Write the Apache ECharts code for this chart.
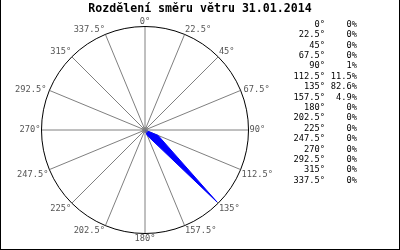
<!DOCTYPE html>
<html>
<head>
<meta charset="utf-8">
<script src="https://cdn.jsdelivr.net/npm/echarts@6/dist/echarts.min.js"></script>
<style>
html,body{margin:0;padding:0;background:#fff;}
#c{width:400px;height:250px;}
</style>
</head>
<body>
<div id="c"></div>
<script>
var titleText = 'Rozdělení směru větru 31.01.2014';
var directions = [0, 22.5, 45, 67.5, 90, 112.5, 135, 157.5, 180, 202.5, 225, 247.5, 270, 292.5, 315, 337.5];
var percents = [0, 0, 0, 0, 1, 11.5, 82.6, 4.9, 0, 0, 0, 0, 0, 0, 0, 0];

var chart = echarts.init(document.getElementById('c'), null, {renderer: 'canvas'});

var lineData = directions.map(function (d, i) { return [percents[i], d]; });
lineData.push([percents[0], 360]);

var mono = 'DejaVu Sans Mono';
var graphics = [
  {type: 'text', left: 'center', top: 3, style: {text: titleText, font: 'bold 11.6px "' + mono + '"', fill: '#000'}},
  {type: 'line', shape: {x1: 0.5, y1: 0, x2: 0.5, y2: 250}, style: {stroke: '#000', lineWidth: 1}},
  {type: 'line', shape: {x1: 399.5, y1: 0, x2: 399.5, y2: 250}, style: {stroke: '#000', lineWidth: 1}},
  {type: 'line', shape: {x1: 0, y1: 249.5, x2: 400, y2: 249.5}, style: {stroke: '#000', lineWidth: 1}}
];
directions.forEach(function (d, i) {
  var y = 24.5 + i * 10.4;
  graphics.push({type: 'text', x: 325, y: y, style: {text: d + '°', font: '8.7px "' + mono + '"', fill: '#000', align: 'right', verticalAlign: 'middle'}});
  graphics.push({type: 'text', x: 357, y: y, style: {text: percents[i] + '%', font: '8.7px "' + mono + '"', fill: '#000', align: 'right', verticalAlign: 'middle'}});
});

chart.setOption({
  animation: false,
  backgroundColor: '#fff',
  polar: {center: [145, 130], radius: 103.5},
  angleAxis: {
    type: 'value', min: 0, max: 360, interval: 22.5, startAngle: 90, clockwise: true,
    axisLine: {show: true, lineStyle: {color: '#000', width: 1}},
    axisTick: {show: false},
    splitLine: {show: true, lineStyle: {color: '#808080', width: 1}},
    axisLabel: {
      show: true, margin: 1, color: '#555', fontFamily: mono, fontSize: 8.7, lineHeight: 8,
      formatter: function (v) {
        if (v >= 360) return '';
        if (v === 67.5) return '{mr|' + v + '°}';
        if (v === 292.5) return '{ml|' + v + '°}';
        if (v > 90 && v < 270) return '{low|' + v + '°}';
        return v + '°';
      },
      rich: {
        mr: {lineHeight: 1, padding: [0, 0, 0, 2], color: '#555', fontFamily: mono, fontSize: 8.7},
        ml: {lineHeight: 1, padding: [0, 2, 0, 0], color: '#555', fontFamily: mono, fontSize: 8.7},
        low: {lineHeight: 8, padding: [1, 0, 0, 0], color: '#555', fontFamily: mono, fontSize: 8.7}
      }
    }
  },
  radiusAxis: {
    type: 'value', min: 0, max: 84,
    axisLine: {show: false}, axisTick: {show: false}, axisLabel: {show: false}, splitLine: {show: false}
  },
  series: [
    {
      type: 'line', coordinateSystem: 'polar', data: lineData, symbol: 'none',
      lineStyle: {color: '#0000ff', width: 1}, areaStyle: {color: '#0000ff', opacity: 1}, z: 3
    },
    {
      type: 'scatter', coordinateSystem: 'polar', data: [[0, 0]], symbolSize: 6,
      itemStyle: {color: '#808080'}, z: 4
    }
  ],
  graphic: graphics
});
</script>
</body>
</html>
